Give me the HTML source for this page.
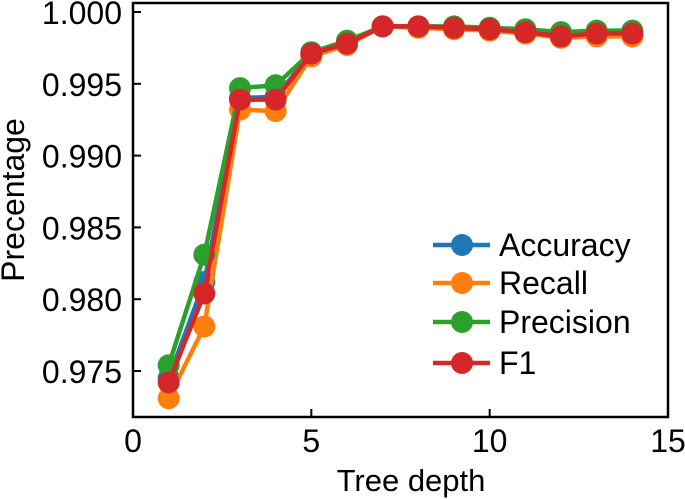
<!DOCTYPE html>
<html><head><meta charset="utf-8"><style>
body{margin:0;background:#fff}
svg{display:block;font-family:"Liberation Sans",sans-serif}
</style></head><body>
<svg id="chart" width="685" height="499" viewBox="0 0 685 499" xmlns="http://www.w3.org/2000/svg">
<g id="lines"></g>
<rect x="133" y="3" width="535" height="414" fill="none" stroke="#000" stroke-width="2.5"/>
<g id="axes"></g>
<text x="411" y="491" font-size="31" text-anchor="middle">Tree depth</text>
<text x="24" y="200" font-size="32" text-anchor="middle" transform="rotate(-90 24 200)">Precentage</text>
<g id="legend"></g>
</svg>
<script>
const depths=[1,2,3,4,5,6,7,8,9,10,11,12,13,14];
const accuracy=[0.9745,0.9812,0.9940,0.9941,0.9971,0.9979,0.9990,0.9990,0.9989,0.9988,0.9986,0.9984,0.9985,0.9985];
const recall=[0.9731,0.9781,0.9932,0.9931,0.9969,0.9977,0.9990,0.9989,0.9988,0.9987,0.9985,0.9982,0.9983,0.9983];
const precision=[0.9754,0.9831,0.9947,0.9949,0.9972,0.9980,0.9990,0.9990,0.9990,0.9989,0.9988,0.9986,0.9987,0.9987];
const f1=[0.9742,0.9804,0.9939,0.9939,0.9971,0.9978,0.9990,0.9990,0.9989,0.9988,0.9986,0.9983,0.9985,0.9985];
const xTicks=[0,5,10,15];
const yTicks=[0.975,0.980,0.985,0.990,0.995,1.000];
const yTickLabels=["0.975","0.980","0.985","0.990","0.995","1.000"];
const seriesNames=["Accuracy","Recall","Precision","F1"];
const NS="http://www.w3.org/2000/svg";
const X=v=>133+(v-0)/15*535;
const Y=v=>12+(1.000-v)/0.005*71.8;
function mk(t,a,p){const e=document.createElementNS(NS,t);for(const k in a)e.setAttribute(k,a[k]);p.appendChild(e);return e;}
const axes=document.getElementById('axes');
xTicks.forEach(t=>{
  const l=mk('line',{x1:X(t),x2:X(t),y1:417,y2:409,stroke:'#000','stroke-width':2},axes);
  
  
  const tx=mk('text',{x:X(t),y:452,'font-size':32,'text-anchor':'middle'},axes);
  tx.textContent=t;
  
  
});
yTicks.forEach((t,i)=>{
  const l=mk('line',{x1:133,x2:141,y1:Y(t),y2:Y(t),stroke:'#000','stroke-width':2},axes);
  
  
  const tx=mk('text',{x:122,y:Y(t)+12,'font-size':32,'text-anchor':'end'},axes);
  tx.textContent=yTickLabels[i];
  
  
});
const colors=['#1f77b4','#ff7f0e','#2ca02c','#d62728'];
const all=[accuracy,recall,precision,f1];
const lines=document.getElementById('lines');
[0,1,2,3].forEach(s=>{
  const g=mk('g',{},lines);
  
  
  const pts=depths.map((d,i)=>X(d)+','+Y(all[s][i])).join(' ');
  mk('polyline',{points:pts,fill:'none',stroke:colors[s],'stroke-width':4.5},g);
  depths.forEach((d,i)=>{
    const c=mk('circle',{cx:X(d),cy:Y(all[s][i]),r:11,fill:colors[s]},g);
    
    
  });
});
const leg=document.getElementById('legend');
const legY=[245,283,322,363];
seriesNames.forEach((n,i)=>{
  const g=mk('g',{},leg);
  
  
  mk('line',{x1:433,x2:490,y1:legY[i],y2:legY[i],stroke:colors[i],'stroke-width':4.5},g);
  mk('circle',{cx:462,cy:legY[i],r:11,fill:colors[i]},g);
  const t=mk('text',{x:499,y:legY[i]+11,'font-size':32},g);
  t.textContent=n;
});
</script>
</body></html>
